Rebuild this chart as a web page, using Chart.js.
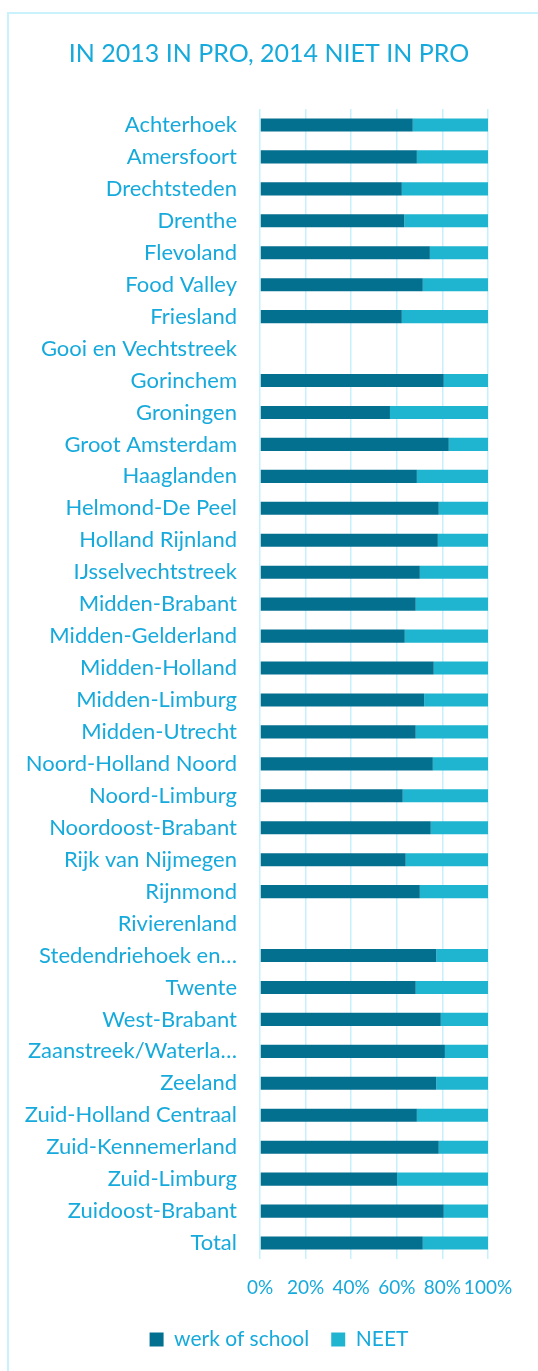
<!DOCTYPE html>
<html>
<head>
<meta charset="utf-8">
<script src="https://cdn.jsdelivr.net/npm/chart.js@4.4.1/dist/chart.umd.min.js"></script>
<style>
    html, body { margin: 0; padding: 0; background: #ffffff; overflow: hidden; }
    #frame {
        position: absolute; left: 7px; top: 12px;
        width: 620px; height: 1420px;
        border: 2px solid #c9f2fc;
    }
    #chart { position: absolute; left: 0; top: 0; }
</style>
</head>
<body>
<div id="frame"></div>
<canvas id="chart" width="538" height="1371"></canvas>
<script>
// =============================================================
// DATA
// =============================================================
const regions = [
    "Achterhoek", "Amersfoort", "Drechtsteden", "Drenthe", "Flevoland",
    "Food Valley", "Friesland", "Gooi en Vechtstreek", "Gorinchem", "Groningen",
    "Groot Amsterdam", "Haaglanden", "Helmond-De Peel", "Holland Rijnland",
    "IJsselvechtstreek", "Midden-Brabant", "Midden-Gelderland", "Midden-Holland",
    "Midden-Limburg", "Midden-Utrecht", "Noord-Holland Noord", "Noord-Limburg",
    "Noordoost-Brabant", "Rijk van Nijmegen", "Rijnmond", "Rivierenland",
    "Stedendriehoek en…", "Twente", "West-Brabant", "Zaanstreek/Waterla…",
    "Zeeland", "Zuid-Holland Centraal", "Zuid-Kennemerland", "Zuid-Limburg",
    "Zuidoost-Brabant", "Total"
];

const werkOfSchool = [
    67.0, 68.8, 62.2, 63.3, 74.5, 71.4, 62.2, null, 80.6, 57.0,
    82.8, 68.8, 78.4, 78.0, 70.1, 68.3, 63.5, 76.2, 72.0, 68.3,
    75.8, 62.6, 74.9, 63.9, 70.1, null, 77.3, 68.3, 79.3, 81.1,
    77.3, 68.8, 78.4, 60.1, 80.6, 71.4
];

const neet = [
    33.0, 31.2, 37.8, 36.7, 25.5, 28.6, 37.8, null, 19.4, 43.0,
    17.2, 31.2, 21.6, 22.0, 29.9, 31.7, 36.5, 23.8, 28.0, 31.7,
    24.2, 37.4, 25.1, 36.1, 29.9, null, 22.7, 31.7, 20.7, 18.9,
    22.7, 31.2, 21.6, 39.9, 19.4, 28.6
];

const xTicks = [0, 20, 40, 60, 80, 100];

const seriesNames = ["werk of school", "NEET"];
const titleText   = "IN 2013 IN PRO, 2014 NIET IN PRO";



// =============================================================
// STYLE
// =============================================================
const textColor = "#16aadc";
const gridColor = "#c6f1fc";
const darkBar   = "#04708f";
const lightBar  = "#1fb5d0";

Chart.defaults.font.family = "Lato, 'Open Sans', sans-serif";
Chart.defaults.color = textColor;

// legend sits a little right of centre in the original
const legendNudge = {
    id: 'legendNudge',
    afterLayout(chart) {
        chart.legend.left  += 10;
        chart.legend.right += 10;
    }
};



// =============================================================
// CHART
// =============================================================
new Chart(document.getElementById("chart"), {
    type: 'bar',
    data: {
        labels: regions,
        datasets: [
            {
                label: seriesNames[0],
                data: werkOfSchool,
                backgroundColor: darkBar,
                borderWidth: 0
            },
            {
                label: seriesNames[1],
                data: neet,
                backgroundColor: lightBar,
                borderWidth: 0
            }
        ]
    },
    plugins: [legendNudge],
    options: {
        indexAxis: 'y',
        responsive: false,
        animation: false,
        devicePixelRatio: 1,
        categoryPercentage: 1,
        barPercentage: 0.41,
        layout: {
            padding: { top: 0, left: 0, right: 0, bottom: 11 }
        },
        plugins: {
            tooltip: { enabled: false },
            title: {
                display: true,
                text: titleText,
                color: textColor,
                font: { size: 25, weight: 'normal' },
                padding: { top: 39, bottom: 40 }
            },
            legend: {
                position: 'bottom',
                labels: {
                    color: textColor,
                    font: { size: 21 },
                    boxWidth: 14,
                    boxHeight: 14,
                    padding: 22
                }
            }
        },
        scales: {
            x: {
                stacked: true,
                min: 0,
                max: 100,
                afterBuildTicks: (scale) => {
                    scale.ticks = xTicks.map(v => ({ value: v }));
                },
                ticks: {
                    color: textColor,
                    font: { size: 19 },
                    padding: 17,
                    minRotation: 0,
                    maxRotation: 0,
                    autoSkip: false,
                    callback: (v) => v + "%"
                },
                grid: {
                    color: gridColor,
                    lineWidth: 1.5,
                    drawTicks: false
                },
                border: { display: false },
                afterFit: (scale) => { scale.height = 48; }
            },
            y: {
                stacked: true,
                ticks: {
                    color: textColor,
                    font: { size: 22 },
                    padding: 23,
                    autoSkip: false
                },
                grid: { display: false, drawTicks: false },
                border: { display: false },
                afterFit: (scale) => { scale.width = 260; }
            },
            // empty right-hand axis, only reserves room next to the plot
            yRight: {
                type: 'category',
                position: 'right',
                ticks: { display: false },
                grid: { display: false, drawTicks: false },
                border: { display: false },
                afterFit: (scale) => { scale.width = 50; }
            }
        }
    }
});
</script>
</body>
</html>
